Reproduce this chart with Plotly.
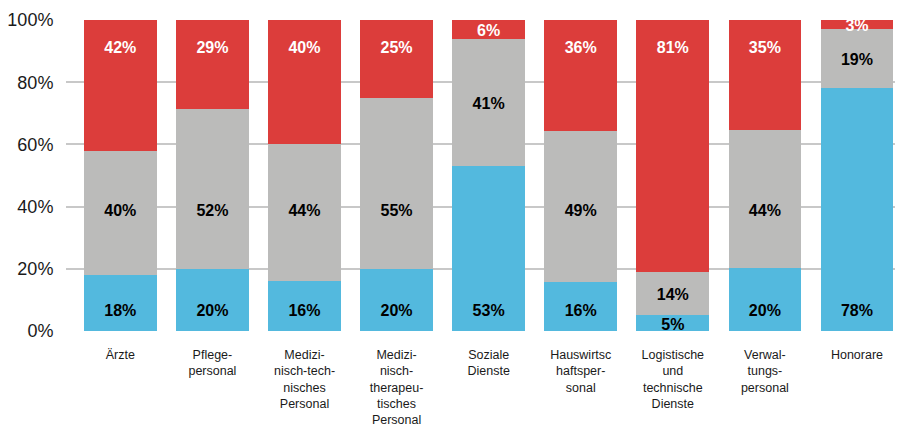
import plotly.graph_objects as go

# categories (multi-line labels as in the original)
categories = [
    "Ärzte",
    "Pflege-<br>personal",
    "Medizi-<br>nisch-tech-<br>nisches<br>Personal",
    "Medizi-<br>nisch-<br>therapeu-<br>tisches<br>Personal",
    "Soziale<br>Dienste",
    "Hauswirtsc<br>haftsper-<br>sonal",
    "Logistische<br>und<br>technische<br>Dienste",
    "Verwal-<br>tungs-<br>personal",
    "Honorare",
]
blue_vals = [18, 20, 16, 20, 53, 16, 5, 20, 78]
gray_vals = [40, 52, 44, 55, 41, 49, 14, 44, 19]
red_vals = [42, 29, 40, 25, 6, 36, 81, 35, 3]
y_ticks = [0, 20, 40, 60, 80, 100]

BLUE = "#53b9de"
GRAY = "#bbbbba"
RED = "#dc3d3b"
FONT = "Liberation Sans, Arial, sans-serif"

x = list(range(len(categories)))
totals = [b + g + r for b, g, r in zip(blue_vals, gray_vals, red_vals)]
blue_n = [b / t * 100 for b, t in zip(blue_vals, totals)]
gray_n = [g / t * 100 for g, t in zip(gray_vals, totals)]
red_n = [r / t * 100 for r, t in zip(red_vals, totals)]

fig = go.Figure()
for name, vals, col in [("blue", blue_n, BLUE), ("gray", gray_n, GRAY), ("red", red_n, RED)]:
    fig.add_trace(go.Bar(x=x, y=vals, marker=dict(color=col, line=dict(width=0)),
                         name=name, hoverinfo="skip"))


def label_pos(bottom, height, anchor, pad):
    # use the series' usual label height if it fits in the segment, else the centre
    if bottom + pad <= anchor <= bottom + height - pad:
        return anchor
    return bottom + height / 2 - 0.8


blue_y = [label_pos(0, b, 6.0, 4) for b in blue_n]
gray_y = [label_pos(b, g, 38.4, 5) for b, g in zip(blue_n, gray_n)]
red_y = [label_pos(b + g, r, 90.7, 4) for b, g, r in zip(blue_n, gray_n, red_n)]

for ys, vals, col in [(blue_y, blue_vals, "black"), (gray_y, gray_vals, "black"), (red_y, red_vals, "white")]:
    fig.add_trace(go.Scatter(x=x, y=ys, mode="text", text=[f"{v}%" for v in vals],
                             textfont=dict(family=FONT, size=16, color=col, weight="bold"),
                             hoverinfo="skip", showlegend=False, cliponaxis=False))

# page body has an 8px margin, so the figure is a bit smaller than the window
fig.update_layout(
    width=895, height=418,
    margin=dict(l=58, r=0, t=12, b=95),
    barmode="stack",
    bargap=0.21,
    showlegend=False,
    plot_bgcolor="white",
    paper_bgcolor="white",
    font=dict(family=FONT, color="#1a1a1a"),
)
fig.update_xaxes(
    tickvals=x, ticktext=categories, range=[-0.59, 8.5], automargin=False,
    tickfont=dict(size=12.5), ticks="outside", ticklen=12, tickcolor="rgba(0,0,0,0)",
    showgrid=False, zeroline=False, showline=False,
)
fig.update_yaxes(
    range=[0, 100], tickvals=y_ticks, ticktext=[f"{v}%" for v in y_ticks], automargin=False,
    tickfont=dict(size=18), showgrid=True, gridcolor="#c8c8c8", gridwidth=1.5,
    zeroline=False, ticks="outside", ticklen=8, tickcolor="rgba(0,0,0,0)",
)

fig.write_html("out.html")
